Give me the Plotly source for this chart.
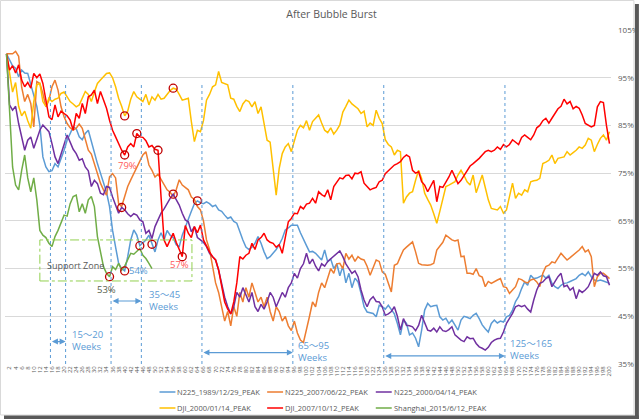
import plotly.graph_objects as go

weeks = list(range(1, 201))
tick_weeks = list(range(2, 201, 2))
tick_labels = [str(w) for w in tick_weeks]

n225_1989 = [100, 98.7, 97.5, 97, 95.2, 96.6, 96, 95.9, 93.5, 91,
             89, 85, 78.4, 76.3, 75.3, 75.5, 77, 76.3, 78, 79.8,
             81.9, 83.3, 84.7, 84.3, 82.6, 82, 83.3, 84, 81.5, 79.5,
             77, 75, 72.9, 71, 68, 63, 59.5, 56.1, 55, 54.5,
             57.5, 61, 63.1, 62, 59.8, 60.5, 61, 62, 60.1, 58.5,
             61, 62.5, 61, 63, 62, 61.5, 60, 59.6, 62, 63.8,
             65.5, 67, 68.6, 69.2, 68.8, 68.6, 69, 68.6, 68, 68.3,
             67.3, 67, 66.2, 65.5, 65.8, 64.9, 64.5, 62.5, 61, 59.5,
             59, 59.5, 60.3, 61.7, 60.3, 58.5, 57.1, 57.5, 58.2, 59,
             60, 61.3, 63.1, 63.5, 64.1, 64.1, 64.1, 62.5, 61, 59.8,
             58.5, 58.6, 58.2, 57.5, 56.8, 58.9, 56.4, 57, 55, 56,
             53.5, 55.5, 52, 54, 51, 53, 52.2, 49.8, 47, 45.9,
             45.7, 45.6, 44.9, 47.3, 47, 46.5, 47.3, 46.5, 45.5, 43.5,
             41.1, 44.2, 43.5, 41.1, 41.5, 40.4, 38.6, 42.1, 46.3, 47.7,
             47, 47.2, 47.3, 44.9, 44.2, 44.6, 43.5, 44.2, 43.2, 42.1,
             44.2, 45, 44.8, 44.5, 45.2, 45.6, 44.5, 43.2, 42.4, 41.7,
             43.5, 44.2, 43.6, 44, 43.8, 44.9, 45.2, 46.3, 48.1, 49.1,
             50.8, 52.2, 51.5, 53.6, 52.9, 53, 53.3, 53.6, 53, 53.6,
             51.9, 51.2, 50.8, 51.5, 51.9, 52, 52.3, 52.6, 52.9, 53.6,
             54, 53.5, 54.3, 53.3, 52.6, 52.4, 52.6, 52.4, 52.2, 51.9]

n225_2007 = [100, 100, 100, 100.5, 99.5, 93, 90, 91.5, 89.6, 84.7,
             94.2, 93.8, 91.7, 88.9, 90.3, 93.1, 94.5, 92.4, 88.9, 86.8,
             85.4, 84.5, 84, 84.4, 85.3, 84.4, 81.9, 79.8, 79, 77,
             75, 72.9, 71.5, 70.4, 74.2, 74.9, 74, 68.6, 68, 70,
             72.2, 73.6, 74.9, 76.3, 77.4, 78.8, 79.5, 76.7, 75.6, 74.2,
             74.8, 73.6, 72.5, 71.5, 71, 70.1, 71.5, 73.6, 72.5, 72,
             71.5, 70, 69.5, 68, 67.3, 65, 61, 59, 55, 52,
             50, 47, 44, 46, 43, 47, 45, 50, 48, 51,
             49, 52, 50, 48, 49, 47, 49, 46, 44, 47,
             46, 44, 45, 43, 42, 44, 41.5, 40, 39.5, 42,
             45, 48, 47, 50, 52, 51, 53, 55, 54, 56,
             56.1, 55, 58.2, 57, 57.8, 56.5, 57.5, 57, 56.8, 55.5,
             53.6, 55.4, 56.8, 56.5, 54.3, 53.8, 51.9, 50.1, 55.7, 56,
             57.5, 58.9, 59.5, 60, 60.6, 58.5, 56.1, 55.8, 55.7, 55.7,
             55.8, 56.1, 58.9, 59.6, 60.5, 62, 61.5, 61, 60.8, 61,
             57.5, 57.6, 54, 54, 53.8, 55, 53.5, 53.2, 51.2, 52.3,
             51.9, 52.3, 52.6, 52.9, 51.2, 51, 49.8, 50.5, 51.2, 52.9,
             52.7, 52.2, 52, 52.6, 52.8, 52.2, 51.2, 54, 55.4, 55.7,
             56.4, 56.2, 57.1, 58.2, 57.5, 56.8, 57.3, 57.8, 58.5, 58.9,
             59.6, 58.5, 58.9, 57.5, 51.2, 53.3, 54, 54, 53.5, 52.9]

n225_2000 = [100, 89.3, 88.2, 89, 85.4, 82.6, 79.8, 81.9, 82.6, 80.2,
             81.9, 84, 85.1, 84.5, 83.7, 81.2, 78.4, 77, 79.1, 81.2,
             83, 81.5, 80, 79.1, 77.7, 78, 76.3, 75.5, 72.2, 73.5,
             72.8, 70.8, 70.5, 72.2, 72, 70, 68.3, 66.6, 67.8, 67.3,
             66.5, 65.9, 66.5, 66.2, 65.2, 64.8, 62.4, 63, 61.3, 63.8,
             65.2, 66.6, 67.5, 68.7, 69.7, 70.6, 69.5, 68.3, 66.6, 65.2,
             64.8, 62.7, 63.8, 61.5, 61, 60.5, 59.6, 58.2, 57.5, 56.8,
             54.7, 52, 49, 47, 45.5, 47, 50, 49, 51, 49.5,
             48, 50, 47, 46, 47.5, 46.5, 48, 50, 49, 47,
             48.5, 50, 49, 51, 52, 54, 53, 55, 56, 58.2,
             56, 57, 55.5, 54.5, 56, 55.5, 56.5, 57, 57.5, 58,
             58.7, 57.5, 56, 55, 54, 54.5, 53.3, 50.5, 48.4, 47,
             48.5, 49.1, 48.1, 48, 47, 45.2, 45.5, 46, 47, 45,
             42.1, 44.5, 43.1, 43, 42.8, 42, 43.1, 45.2, 43.5, 42.1,
             41.9, 42.5, 41.7, 42.8, 42, 41.8, 42.2, 42.8, 41.1, 40.5,
             40, 39.7, 40.7, 40.3, 40.4, 39.3, 38.6, 38.3, 37.9, 38.5,
             39.5, 40, 40.3, 40.4, 41.7, 43.5, 44.5, 45.6, 47, 47.3,
             47, 47.3, 46.5, 45.9, 48.4, 50.5, 51.9, 52.2, 52.9, 53.3,
             51.2, 52.3, 53.3, 54, 51.2, 51.5, 50.5, 51, 48.7, 50.5,
             50, 50.5, 51.2, 52.6, 54, 53.6, 54.3, 53.5, 53.3, 51.5]

dji_2000 = [100, 96, 92, 94, 89, 87, 88, 86, 84.4, 90,
            93.5, 93.8, 90, 89, 90.7, 90, 90.5, 90.7, 91.7, 92,
            91, 90, 89.5, 88.9, 89.3, 90.7, 92.1, 91.5, 90, 92,
            93.8, 94.5, 95.2, 95.9, 96, 95, 93.1, 90.7, 89, 87,
            88, 90.5, 92.1, 91, 90.5, 90, 91.5, 89.3, 91, 90.3,
            91.5, 90.5, 90.7, 91.5, 92.3, 92.8, 92.6, 91.5, 90.3, 90.5,
            90.7, 85.8, 81.6, 84, 83.7, 86, 90.3, 91.5, 93.1, 93.5,
            96.3, 94, 93.8, 93.5, 90.7, 90.5, 89, 87.9, 89.5, 90.3,
            90, 88.9, 90, 87.5, 88.9, 85, 81.9, 81.5, 75.6, 70.4,
            76, 79.1, 80.5, 81.2, 79.5, 82, 84, 85, 84.5, 86,
            84, 85.8, 86.5, 87.2, 85.5, 84, 83.5, 84.5, 83.2, 84,
            85.1, 87.8, 89, 90.3, 89.5, 89, 88.5, 87.5, 88, 84.7,
            85.5, 85, 88.2, 86.5, 85.4, 82, 81, 80.5, 78.8, 79.8,
            79.5, 68.7, 70, 70.8, 71.1, 73.5, 75.6, 73.9, 70.8, 69.5,
            68.3, 66.5, 64.5, 67, 69.7, 72.2, 72.5, 72.8, 73.2, 74.6,
            75.6, 74.5, 73.2, 72.5, 74.6, 70.9, 73, 74.6, 72, 69.4,
            67.6, 67.5, 67.3, 68, 66.6, 67.3, 70, 72.9, 69.7, 70.8,
            70.4, 71.5, 71.1, 73.2, 73.4, 73.5, 73.9, 77, 77.3, 77.7,
            78.8, 77, 78.1, 78.3, 78.4, 79.5, 78.8, 79.3, 79.8, 80.5,
            80.2, 80.9, 82.3, 81.9, 79.5, 81, 82.3, 83, 81.9, 83.7]

dji_2007 = [100, 96.6, 97.5, 96, 97.7, 94.5, 93.1, 94, 92.8, 95.9,
            95, 95.8, 93.8, 90.3, 86.8, 86.2, 89.3, 86.8, 88, 87.5,
            87, 86.1, 84, 87.5, 86.5, 89.6, 87.5, 91, 91.4, 92.4,
            89.6, 92.1, 90.5, 88.6, 86.1, 84, 82.6, 81, 79.8, 78.8,
            80.5, 81.2, 80.5, 83.3, 82.6, 82.5, 81.8, 80.5, 80.8, 80,
            79.8, 70, 61, 59.6, 61, 62.4, 60.5, 59, 57.5, 64,
            62.4, 61.5, 63.8, 62.5, 64.1, 61, 59.6, 58.5, 57.5, 56.8,
            54.7, 51, 48, 46.5, 45.5, 48, 52, 57.5, 57, 57.8,
            58.2, 60.3, 59, 61, 61.5, 62.4, 61, 60.5, 60.3, 59.5,
            60, 58.2, 61.7, 64.8, 65.5, 66.6, 66.5, 68, 67.5, 68.5,
            68.7, 69.7, 68.7, 71.1, 70.5, 70.1, 71.5, 69.4, 72.2, 73.2,
            74, 73.8, 74.5, 74.6, 73.8, 75, 74.9, 75.3, 72.9, 72.2,
            71.5, 71.8, 72, 73.2, 73.5, 74.9, 75.5, 76.3, 76.7, 77,
            77.4, 78.3, 78.8, 78.4, 75.6, 75, 75.3, 73.2, 72.5, 71.1,
            72.3, 73.5, 69, 72.2, 72, 73, 74.2, 75.6, 74, 72.8,
            73.5, 74.6, 75.5, 76.5, 77, 77.5, 78.1, 78.8, 79.5, 79.8,
            79.5, 79.8, 80.5, 80, 81, 80.5, 81, 82, 81.5, 81,
            82.5, 83, 82.5, 82, 83, 84.5, 85, 86, 86.5, 85.5,
            86.5, 87.5, 88.5, 89, 90.5, 89.5, 90, 88.5, 89, 88.6,
            87.2, 85.4, 85.1, 84.7, 85, 88.9, 90, 89.8, 85, 81.2]

shanghai_2015 = [100, 88.9, 76.3, 72.5, 71.5, 75.6, 78.8, 74, 71.1, 74,
                 69.4, 63, 62, 61.5, 60.3, 59.6, 61.7, 63, 64.5, 66.2,
                 66, 68.6, 70.1, 70.4, 66.9, 68.6, 66.6, 69.4, 70.1, 68,
                 61.7, 58.2, 55.4, 54, 53.3, 55.4, 54.8, 56.1, 54.7, 55.5,
                 57, 58.2, 58, 58.5, 59.2, 57.8, 57.1, 56.1, 55]

series_names = ["N225_1989/12/29_PEAK", "N225_2007/06/22_PEAK", "N225_2000/04/14_PEAK",
                "DJI_2000/01/14_PEAK", "DJI_2007/10/12_PEAK", "Shanghai_2015/6/12_PEAK"]
series_values = [n225_1989, n225_2007, n225_2000, dji_2000, dji_2007, shanghai_2015]
series_colors = ["#5B9BD5", "#ED7D31", "#7030A0", "#FFC000", "#FF0000", "#70AD47"]

# marked points: (series index, week)
mark_series = [3, 4, 4, 4, 3, 2, 2, 0, 5, 0, 0, 0, 4]
mark_weeks = [40, 40, 44, 51, 56, 39, 56, 64, 35, 40, 45, 49, 59]

# week-range markers
range_starts = [15.5, 35.5, 65.5, 125.5]
range_ends = [20.5, 45.5, 95.5, 165.5]
range_texts = ["15～20<br>Weeks", "35～45<br>Weeks", "65～95<br>Weeks", "125～165<br>Weeks"]

# percentage call-outs
pct_texts = ["79%", "53%", "54%", "57%"]

W, H = 644, 420
L, R, T, B = 5, 31, 30, 56
PW, PH = W - L - R, H - T - B


def px(x):
    return (x - L) / PW


def py(y):
    return (H - B - y) / PH


fig = go.Figure()
for name, vals, col in zip(series_names, series_values, series_colors):
    fig.add_trace(go.Scatter(x=weeks[:len(vals)], y=vals, mode="lines", name=name,
                             line=dict(color=col, width=1.5), showlegend=False,
                             hoverinfo="skip"))

fig.add_trace(go.Scatter(
    x=mark_weeks,
    y=[series_values[s][w - 1] for s, w in zip(mark_series, mark_weeks)],
    mode="markers", showlegend=False, hoverinfo="skip",
    marker=dict(symbol="circle-open", size=8, color="#C00000", line=dict(width=1.3, color="#C00000"))))

shapes = []
annots = []
for w in range_starts + range_ends:
    shapes.append(dict(type="line", xref="x", yref="y", x0=w, x1=w, y0=35, y1=94.1,
                       line=dict(color="#5B9BD5", width=1, dash="dot")))

arrow_y = [39.7, 48.2, 37.4, 36.7]
text_x = [21.9, 47.5, 96.5, 166.6]
text_y = [40.0, 48.4, 37.7, 38.0]
for s, e, ay, tx, tyy, t in zip(range_starts, range_ends, arrow_y, text_x, text_y, range_texts):
    annots.append(dict(x=e, y=ay, ax=s, ay=ay, xref="x", yref="y", axref="x", ayref="y",
                       text="", showarrow=True, arrowhead=2, startarrowhead=2,
                       arrowside="end+start", arrowsize=1, arrowwidth=1.2,
                       arrowcolor="#5B9BD5"))
    annots.append(dict(x=tx, y=tyy, xref="x", yref="y", text=t, showarrow=False,
                       xanchor="left", yanchor="middle", align="left",
                       font=dict(size=9.5, color="#5B9BD5")))

shapes.append(dict(type="rect", xref="x", yref="y", x0=12.0, x1=62.2, y0=52.4, y1=61.0,
                   line=dict(color="#92D050", width=1, dash="dashdot")))
annots.append(dict(x=13.7, y=55.6, xref="x", yref="y", text="Support Zone", showarrow=False,
                   xanchor="left", yanchor="middle", font=dict(size=9, color="#595959")))

pct_pos = [(41, 76.7), (34.1, 50.7), (44.6, 54.7), (58.1, 55.8)]
pct_cols = ["#FF5B5B", "#57614C", "#5B9BD5", "#FF5B5B"]
for t, (x, y), c in zip(pct_texts, pct_pos, pct_cols):
    annots.append(dict(x=x, y=y, xref="x", yref="y", text=t, showarrow=False,
                       xanchor="center", yanchor="middle", font=dict(size=9.5, color=c)))

leg_cols = [160, 268, 377]
leg_rows = [392, 408]
for i, (name, col) in enumerate(zip(series_names, series_colors)):
    lx = leg_cols[i % 3]
    ly = leg_rows[i // 3]
    shapes.append(dict(type="line", xref="paper", yref="paper", x0=px(lx), x1=px(lx + 16),
                       y0=py(ly), y1=py(ly), line=dict(color=col, width=1.5)))
    annots.append(dict(x=px(lx + 16), y=py(ly), xref="paper", yref="paper", text=name,
                       showarrow=False, xanchor="left", yanchor="middle",
                       font=dict(size=7.5, color="#595959")))

shapes.append(dict(type="rect", xref="paper", yref="paper", x0=px(0.5), x1=px(636),
                   y0=py(0.5), y1=py(415), line=dict(color="#D9D9D9", width=1), layer="below"))
shapes.append(dict(type="rect", xref="paper", yref="paper", x0=px(637), x1=px(641),
                   y0=py(4), y1=py(419), line=dict(width=0), fillcolor="#595959"))
shapes.append(dict(type="rect", xref="paper", yref="paper", x0=px(4), x1=px(641),
                   y0=py(415.5), y1=py(419), line=dict(width=0), fillcolor="#595959"))

fig.update_layout(
    width=W, height=H, margin=dict(l=L, r=R, t=T, b=B),
    paper_bgcolor="white", plot_bgcolor="white",
    font=dict(family="Open Sans, Noto Sans, Noto Sans CJK JP, sans-serif", color="#595959"),
    title=dict(text="After Bubble Burst", x=px(318), xanchor="center", y=1 - 14 / H,
               yanchor="middle", font=dict(size=10.5, color="#595959")),
    showlegend=False,
    shapes=shapes, annotations=annots,
    xaxis=dict(range=[0.5, 200.5], tickmode="array", tickvals=tick_weeks, ticktext=tick_labels,
               tickangle=-90, tickfont=dict(size=6, color="#595959"), showgrid=False,
               zeroline=False, showline=False, ticks=""),
    yaxis=dict(range=[35, 105], side="right", tickmode="array",
               tickvals=[35, 45, 55, 65, 75, 85, 95, 105],
               ticktext=["35%", "45%", "55%", "65%", "75%", "85%", "95%", "105%"],
               tickfont=dict(size=8, color="#595959"), gridcolor="#D9D9D9", gridwidth=1,
               zeroline=False, showline=False, ticks="", ticklabelstandoff=6),
)

fig.write_html("out.html", config={"displayModeBar": False},
               post_script="document.body.style.margin='0';")
